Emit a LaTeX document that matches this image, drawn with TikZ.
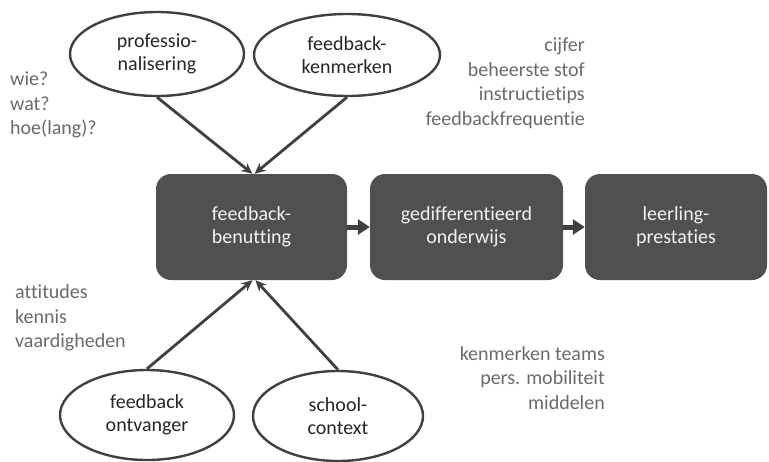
\documentclass[tikz,border=0pt]{standalone}
\usepackage{fontspec}
\setmainfont{Carlito}[Ligatures=NoCommon]
\usetikzlibrary{shapes.geometric,arrows.meta,calc}
\definecolor{boxfill}{HTML}{505050}
\definecolor{linec}{HTML}{404040}
\definecolor{annot}{HTML}{6A6A6A}
\definecolor{ink}{HTML}{262626}
\definecolor{boxtext}{HTML}{F2F2F2}
\tikzset{
  stagebox/.style={draw=none, fill=boxfill, rounded corners=15pt, text=boxtext,
    align=center, inner sep=0pt, minimum height=106pt,
    font=\fontsize{20}{23}\selectfont},
  factor/.style={ellipse, draw=linec, line width=2.4pt, fill=white, text=ink,
    align=center, inner sep=0pt, font=\fontsize{20}{23}\selectfont},
  note/.style={text=annot, inner sep=0pt, font=\fontsize{20}{24.5}\selectfont},
  inarrow/.style={draw=linec, line width=2.8pt, -{Stealth[length=11pt,width=10pt]}},
  flowarrow/.style={draw=linec, line width=5pt, -{Triangle[length=12pt,width=15pt]}}
}
\begin{document}
\begin{tikzpicture}[x=1pt,y=-1pt]
\useasboundingbox (0,0) rectangle (769,461);
% stages
\node[stagebox, minimum width=191pt] (b1) at (251.5,227) {feedback-\\benutting};
\node[stagebox, minimum width=193pt] (b2) at (466.5,227) {gedifferentieerd\\onderwijs};
\node[stagebox, minimum width=182pt] (b3) at (676,227) {leerling-\\prestaties};
\draw[flowarrow] (b1.east) -- (b2.west);
\draw[flowarrow] (b2.east) -- (b3.west);
% factors
\node[factor, minimum width=174pt, minimum height=84pt] (e1) at (157,54) {professio-\\nalisering};
\node[factor, minimum width=186pt, minimum height=82pt] (e2) at (347,55) {feedback-\\kenmerken};
\node[factor, minimum width=174pt, minimum height=90pt] (e3) at (147,415) {feedback\\ontvanger};
\node[factor, minimum width=170pt, minimum height=90pt] (e4) at (338,416) {school-\\context};
\draw[inarrow] (e1.south) -- ($(b1.north)+(1,0)$);
\draw[inarrow] (e2.south) -- ($(b1.north)+(3,0)$);
\draw[inarrow] (e3.north) -- ($(b1.south)+(1,0)$);
\draw[inarrow] (e4.north) -- ($(b1.south)+(4,0)$);
% notes
\node[note, align=left, anchor=west] (n1) at (10,105) {wie?\\wat?\\hoe(lang)?};
\node[note, align=right, anchor=east] (n2) at (585,83) {cijfer\\beheerste stof\\instructietips\\feedbackfrequentie};
\node[note, align=left, anchor=west] (n3) at (15,318) {attitudes\\kennis\\vaardigheden};
\node[note, align=right, anchor=east] (n4) at (605,378) {kenmerken teams\\pers. mobiliteit\\middelen};
\end{tikzpicture}
\end{document}
